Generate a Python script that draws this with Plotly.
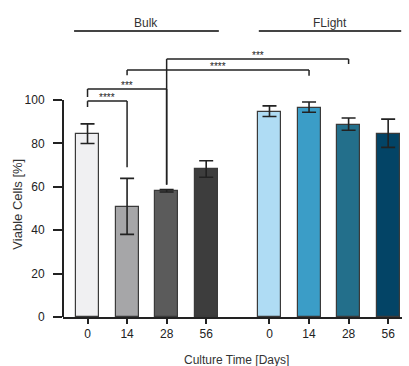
import plotly.graph_objects as go

# ---- data ----
groups = ["Bulk", "FLight"]
days_labels = ["0", "14", "28", "56", "0", "14", "28", "56"]
x_pos = [0, 1, 2, 3, 4.6, 5.6, 6.6, 7.6]
viable = [84.2, 50.6, 58.2, 68.2, 94.6, 96.4, 88.5, 84.2]
err_plus = [4.8, 13.3, 0.6, 3.8, 2.7, 2.7, 3.2, 7.0]
err_minus = [4.2, 12.5, 0.6, 3.8, 2.2, 2.0, 2.4, 6.0]
bar_colors = ["#f0f0f2", "#a6a6a8", "#5b5b5b", "#3d3d3d",
              "#afdcf4", "#3b9dc7", "#236f8b", "#034466"]

# significance brackets: (x_left, x_right, y_top, left_leg_bottom, right_leg_bottom, label)
brackets = [
    (0, 1, 99.5, 96.8, 69.0, "****"),
    (0, 2, 105.1, 101.4, 61.0, "***"),
    (1, 5.6, 113.8, 111.4, 111.2, "****"),
    (2, 6.6, 118.9, 61.0, 116.6, "***"),
]
group_spans = [(-0.34, 3.32, "Bulk"), (4.33, 7.93, "FLight")]

FONT = "Liberation Sans, Arial, sans-serif"
INK = "#222222"

fig = go.Figure()
fig.add_trace(go.Bar(
    x=x_pos, y=viable, width=0.58,
    marker=dict(color=bar_colors, line=dict(color="#3a3a3a", width=1.2)),
    error_y=dict(type="data", symmetric=False, array=err_plus, arrayminus=err_minus,
                 color=INK, thickness=1.6, width=7),
    showlegend=False, hoverinfo="skip",
))

shapes = []
annotations = []
# y axis line from 0 to 100
shapes.append(dict(type="line", xref="paper", yref="y", x0=0, x1=0, y0=-0.4, y1=100,
                   line=dict(color=INK, width=2)))
for xl, xr, yt, yl, yr, lab in brackets:
    shapes.append(dict(type="line", xref="x", yref="y", x0=xl, x1=xr, y0=yt, y1=yt,
                       line=dict(color=INK, width=1.5)))
    shapes.append(dict(type="line", xref="x", yref="y", x0=xl, x1=xl, y0=yt, y1=yl,
                       line=dict(color=INK, width=1.5)))
    shapes.append(dict(type="line", xref="x", yref="y", x0=xr, x1=xr, y0=yt, y1=yr,
                       line=dict(color=INK, width=1.5)))
    annotations.append(dict(x=(xl + xr) / 2, y=yt, xref="x", yref="y", text=lab,
                            showarrow=False, yanchor="bottom", yshift=-4,
                            font=dict(family=FONT, size=10, color=INK)))
for x0, x1, lab in group_spans:
    shapes.append(dict(type="line", xref="x", yref="y", x0=x0, x1=x1, y0=131.8, y1=131.8,
                       line=dict(color="#444444", width=2)))
    annotations.append(dict(x=(x0 + x1) / 2, y=131.8, xref="x", yref="y", text=lab,
                            showarrow=False, yanchor="middle", yshift=8,
                            font=dict(family=FONT, size=12, color="#333333")))

# axis titles as annotations (pixel-precise placement)
annotations.append(dict(x=0, xref="paper", xshift=-45, y=0.366, yref="paper",
                        text="Viable Cells [%]", showarrow=False, textangle=-90,
                        xanchor="center", yanchor="middle",
                        font=dict(family=FONT, size=13, color="#333333")))
annotations.append(dict(x=0.513, xref="paper", y=0, yref="paper", yshift=-43,
                        text="Culture Time [Days]", showarrow=False,
                        xanchor="center", yanchor="middle",
                        font=dict(family=FONT, size=12, color="#333333")))

fig.update_layout(
    width=409, height=366,
    margin=dict(l=63, r=7, t=10, b=49, autoexpand=False),
    paper_bgcolor="white", plot_bgcolor="white",
    font=dict(family=FONT, size=12, color="#333333"),
    shapes=shapes, annotations=annotations,
    bargap=0,
)
fig.update_xaxes(
    range=[-0.62, 7.95], tickvals=x_pos, ticktext=days_labels,
    showline=True, linecolor=INK, linewidth=2,
    ticks="outside", ticklen=5, tickwidth=1.5, tickcolor=INK,
    showgrid=False, zeroline=False, automargin=False,
    tickfont=dict(family=FONT, size=12, color="#222222"),
)
fig.update_yaxes(
    range=[0, 141.5], tickvals=[0, 20, 40, 60, 80, 100],
    showline=False, ticks="outside", ticklen=9, tickwidth=2, tickcolor=INK,
    ticklabelstandoff=6,
    showgrid=False, zeroline=False, automargin=False,
    tickfont=dict(family=FONT, size=12, color="#222222"),
)

fig.write_html("out.html", config={"displayModeBar": False},
               post_script="document.body.style.margin='0';document.body.style.overflow='hidden';")
